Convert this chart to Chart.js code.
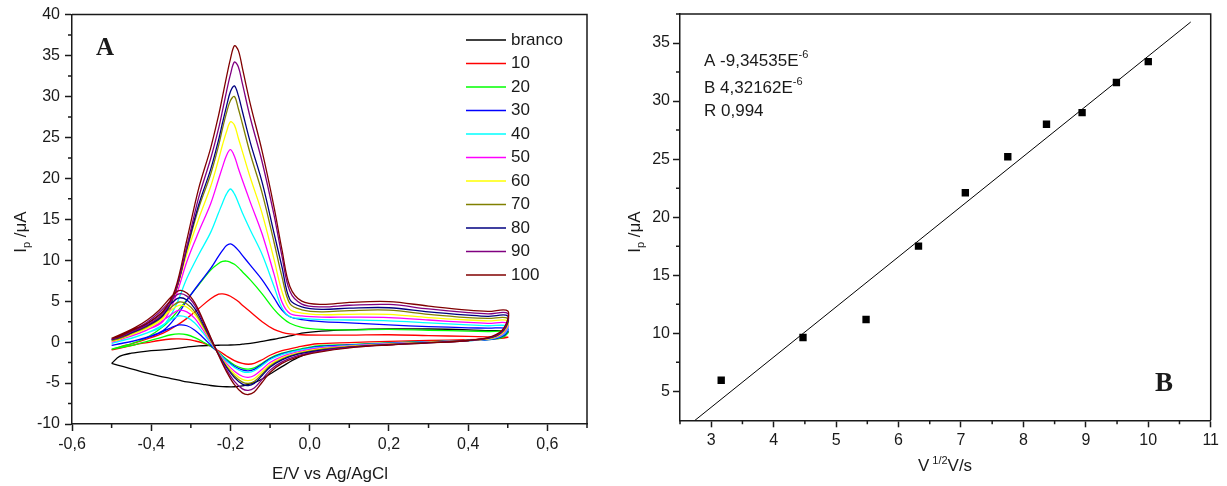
<!DOCTYPE html>
<html>
<head>
<meta charset="utf-8">
<script src="https://cdn.jsdelivr.net/npm/chart.js@4.4.0/dist/chart.umd.min.js"></script>
<style>
  html, body { margin: 0; padding: 0; background: #fff; }
  #wrap { position: relative; width: 1227px; height: 486px; }
  canvas { position: absolute; top: 0; }
  #cvA { left: 0; }
  #cvB { left: 613px; }
</style>
</head>
<body>
<div id="wrap">
  <canvas id="cvA" width="613" height="486"></canvas>
  <canvas id="cvB" width="614" height="486"></canvas>
</div>
<script>
// ---- panel A: cyclic voltammograms ----
// potential grid of the forward scan (-0.5 -> 0.5) and of the reverse scan (0.5 -> -0.5)
const eForward = [-0.5, -0.47, -0.44, -0.41, -0.38, -0.35, -0.33, -0.31, -0.29, -0.27, -0.25, -0.23, -0.21, -0.19, -0.17, -0.155, -0.14, -0.12, -0.1, -0.07, -0.03, 0.02, 0.1, 0.2, 0.3, 0.4, 0.46, 0.49, 0.5]
const eReverse = [0.5, 0.45, 0.4, 0.3, 0.2, 0.1, 0.03, -0.02, -0.05, -0.07, -0.09, -0.12, -0.15, -0.17, -0.18, -0.19, -0.2, -0.21, -0.22, -0.23, -0.25, -0.28, -0.31, -0.34, -0.37, -0.41, -0.45, -0.48, -0.5]

const seriesLabels = ['branco', '10', '20', '30', '40', '50', '60', '70', '80', '90', '100']
const seriesColors = ['#000000', '#ff0000', '#00ff00', '#0000ff', '#00ffff', '#ff00ff', '#ffff00', '#808000', '#000080', '#800080', '#800000']

// currents (uA), forward scan
const fwdBranco = [-2.6, -3.0, -3.4, -3.8, -4.15, -4.45, -4.65, -4.85, -5.0, -5.15, -5.3, -5.4, -5.45, -5.45, -5.35, -5.15, -4.95, -4.5, -3.9, -3.0, -1.9, -1.0, -0.45, -0.15, 0.05, 0.25, 0.45, 0.8, 1.3]
const fwd10 = [-0.95, -0.65, -0.3, -0.05, 0.2, 0.38, 0.4, 0.33, 0.15, -0.1, -0.5, -1.05, -1.7, -2.25, -2.6, -2.7, -2.6, -2.15, -1.6, -1.05, -0.6, -0.2, -0.05, 0.1, 0.2, 0.3, 0.4, 0.5, 0.6]
const fwd20 = [-0.85, -0.6, -0.3, 0.1, 0.5, 0.9, 1.0, 0.9, 0.55, 0.05, -0.5, -1.25, -2.1, -2.8, -3.2, -3.3, -3.15, -2.6, -1.95, -1.35, -0.9, -0.45, -0.3, -0.1, 0.06, 0.2, 0.35, 0.65, 1.25]
const fwd30 = [-0.4, -0.13, 0.18, 0.55, 1.08, 1.75, 2.1, 2.0, 1.46, 0.6, -0.36, -1.32, -2.23, -2.95, -3.4, -3.5, -3.33, -2.7, -2.03, -1.44, -1.0, -0.55, -0.35, -0.14, 0.04, 0.2, 0.35, 0.8, 1.65]
const fwd40 = [-0.15, 0.22, 0.62, 1.12, 1.83, 2.73, 3.2, 3.03, 2.34, 1.18, -0.11, -1.33, -2.32, -3.1, -3.6, -3.7, -3.5, -2.85, -2.15, -1.52, -1.04, -0.65, -0.4, -0.17, 0.02, 0.2, 0.4, 0.95, 1.95]
const fwd50 = [0.0, 0.43, 0.9, 1.48, 2.3, 3.35, 3.9, 3.7, 2.9, 1.55, 0.05, -1.39, -2.6, -3.56, -4.17, -4.3, -4.08, -3.31, -2.49, -1.76, -1.2, -0.75, -0.45, -0.2, 0.0, 0.2, 0.45, 1.1, 2.3]
const fwd60 = [0.1, 0.58, 1.11, 1.77, 2.7, 3.88, 4.5, 4.28, 3.38, 1.87, 0.19, -1.42, -2.79, -3.87, -4.56, -4.7, -4.47, -3.62, -2.73, -1.93, -1.32, -0.85, -0.5, -0.24, -0.02, 0.2, 0.5, 1.25, 2.6]
const fwd70 = [0.2, 0.72, 1.28, 1.99, 2.97, 4.24, 4.9, 4.66, 3.7, 2.08, 0.28, -1.46, -2.96, -4.14, -4.89, -5.05, -4.8, -3.89, -2.93, -2.07, -1.41, -0.95, -0.55, -0.27, -0.04, 0.2, 0.55, 1.4, 2.9]
const fwd80 = [0.3, 0.86, 1.47, 2.24, 3.31, 4.69, 5.4, 5.14, 4.1, 2.35, 0.4, -1.48, -3.07, -4.33, -5.13, -5.3, -5.04, -4.08, -3.07, -2.17, -1.48, -1.05, -0.6, -0.3, -0.06, 0.2, 0.6, 1.5, 3.2]
const fwd90 = [0.35, 0.96, 1.63, 2.46, 3.62, 5.12, 5.9, 5.62, 4.5, 2.61, 0.51, -1.53, -3.36, -4.8, -5.71, -5.9, -5.6, -4.54, -3.42, -2.42, -1.65, -1.15, -0.65, -0.32, -0.08, 0.2, 0.65, 1.6, 3.5]
const fwd100 = [0.45, 1.1, 1.8, 2.7, 3.9, 5.5, 6.3, 6.0, 4.8, 2.8, 0.6, -1.6, -3.6, -5.2, -6.2, -6.4, -6.1, -4.9, -3.7, -2.6, -1.8, -1.25, -0.7, -0.35, -0.1, 0.2, 0.7, 1.7, 3.8]

// currents (uA), reverse scan
const revBranco = [1.3, 1.4, 1.5, 1.6, 1.6, 1.5, 1.35, 1.1, 0.75, 0.55, 0.35, 0.1, -0.15, -0.25, -0.3, -0.33, -0.35, -0.36, -0.37, -0.38, -0.4, -0.45, -0.6, -0.8, -0.95, -1.1, -1.35, -1.75, -2.6]
const rev10 = [0.6, 0.65, 0.7, 0.8, 0.9, 0.85, 0.85, 0.9, 1.0, 1.2, 1.55, 2.5, 3.7, 4.5, 4.95, 5.3, 5.6, 5.8, 5.9, 5.85, 5.3, 4.1, 2.9, 1.9, 1.1, 0.4, -0.2, -0.6, -0.95]
const rev20 = [1.25, 1.3, 1.35, 1.45, 1.55, 1.5, 1.55, 1.8, 2.3, 3.0, 4.0, 5.9, 7.6, 8.6, 9.1, 9.5, 9.75, 9.9, 9.85, 9.6, 8.8, 7.0, 5.2, 3.4, 1.9, 0.6, -0.2, -0.6, -0.85]
const rev30 = [1.65, 1.7, 1.75, 1.9, 2.1, 2.35, 2.5, 2.75, 3.1, 3.9, 5.4, 7.6, 9.4, 10.6, 11.2, 11.7, 12.0, 11.8, 11.2, 10.5, 9.0, 7.1, 5.1, 2.9, 1.4, 0.6, 0.1, -0.2, -0.4]
const rev40 = [1.95, 2.0, 2.1, 2.35, 2.6, 2.7, 2.75, 2.9, 3.1, 4.2, 6.8, 10.7, 13.7, 15.8, 17.0, 18.1, 18.7, 18.1, 17.0, 15.8, 13.4, 10.7, 7.8, 4.25, 2.0, 1.14, 0.5, 0.12, -0.15]
const rev50 = [2.3, 2.3, 2.4, 2.7, 3.0, 3.05, 3.05, 3.2, 3.5, 4.9, 8.3, 13.2, 17.1, 19.8, 21.2, 22.7, 23.5, 22.8, 21.4, 19.9, 16.9, 13.5, 9.85, 5.35, 2.55, 1.5, 0.76, 0.3, 0.0]
const rev60 = [2.6, 2.6, 2.7, 3.0, 3.4, 3.4, 3.35, 3.55, 4.0, 6.2, 10.1, 15.7, 20.1, 23.3, 24.9, 26.5, 26.9, 25.7, 24.1, 22.3, 19.0, 15.1, 10.8, 5.8, 2.9, 1.7, 0.92, 0.34, 0.1]
const rev70 = [2.9, 2.9, 3.0, 3.4, 3.9, 3.85, 3.7, 3.95, 4.7, 8.0, 12.2, 18.2, 23.0, 26.7, 28.5, 30.0, 29.5, 28.0, 26.1, 24.0, 20.5, 16.4, 11.3, 5.95, 3.2, 1.9, 1.05, 0.45, 0.2]
const rev80 = [3.2, 3.15, 3.3, 3.7, 4.2, 4.15, 4.0, 4.3, 5.2, 9.2, 13.3, 19.5, 24.4, 28.2, 30.1, 31.3, 30.6, 28.8, 26.8, 24.7, 21.1, 16.8, 11.5, 6.0, 3.3, 2.0, 1.15, 0.57, 0.3]
const rev90 = [3.5, 3.45, 3.6, 4.05, 4.6, 4.5, 4.3, 4.65, 6.2, 10.5, 15.5, 22.0, 27.4, 31.6, 33.6, 34.2, 32.7, 30.6, 28.3, 26.1, 22.4, 17.7, 11.7, 6.0, 3.55, 2.1, 1.25, 0.6, 0.35]
const rev100 = [3.8, 3.75, 3.9, 4.4, 4.95, 4.85, 4.6, 5.0, 6.8, 11.3, 16.5, 23.3, 29.1, 33.5, 35.6, 36.2, 34.6, 32.4, 30.0, 27.7, 23.7, 18.8, 12.5, 6.4, 3.8, 2.3, 1.4, 0.7, 0.45]

const fwdCurrents = [fwdBranco, fwd10, fwd20, fwd30, fwd40, fwd50, fwd60, fwd70, fwd80, fwd90, fwd100]
const revCurrents = [revBranco, rev10, rev20, rev30, rev40, rev50, rev60, rev70, rev80, rev90, rev100]

const xTicksA = [-0.6, -0.4, -0.2, 0, 0.2, 0.4, 0.6]
const xMinorA = [-0.5, -0.3, -0.1, 0.1, 0.3, 0.5, 0.7]
const yTicksA = [-10, -5, 0, 5, 10, 15, 20, 25, 30, 35, 40]
const yMinorA = [-7.5, -2.5, 2.5, 7.5, 12.5, 17.5, 22.5, 27.5, 32.5, 37.5]

// ---- panel B: peak current vs square root of scan rate ----
const sqrtRate = [3.16, 4.47, 5.48, 6.32, 7.07, 7.75, 8.37, 8.94, 9.49, 10.0]
const peakCurrent = [5.95, 9.63, 11.18, 17.5, 22.1, 25.2, 28.0, 29.0, 31.6, 33.4]
const fitX = [2.74, 10.68]
const fitY = [2.5, 36.81]
const fitLabels = ['A -9,34535E', 'B 4,32162E', 'R 0,994']
const fitExponents = ['-6', '-6', '']

const xTicksB = [3, 4, 5, 6, 7, 8, 9, 10, 11]
const xMinorB = [2.5, 3.5, 4.5, 5.5, 6.5, 7.5, 8.5, 9.5, 10.5]
const yTicksB = [5, 10, 15, 20, 25, 30, 35]
const yMinorB = [7.5, 12.5, 17.5, 22.5, 27.5, 32.5, 37.5]

const family = '"Liberation Sans", Arial, sans-serif'
const serif = '"Liberation Serif", "Times New Roman", serif'
const ink = '#1a1a1a'

Chart.defaults.font.family = family
Chart.defaults.font.size = 16
Chart.defaults.color = ink

function loop(fwd, rev) {
  const pts = []
  eForward.forEach((e, i) => pts.push({ x: e, y: fwd[i] }))
  eReverse.forEach((e, i) => {
    if (i > 0) pts.push({ x: e, y: rev[i] })
  })
  return pts
}

function commaFixed(v, d) {
  return Number(v).toFixed(d).replace('.', ',')
}

function drawFrame(ctx, a) {
  ctx.save()
  ctx.strokeStyle = ink
  ctx.lineWidth = 1.5
  ctx.beginPath()
  ctx.moveTo(a.left, a.top)
  ctx.lineTo(a.right, a.top)
  ctx.lineTo(a.right, a.bottom)
  ctx.stroke()
  ctx.restore()
}

function drawMinor(chart, id, values) {
  const s = chart.scales[id]
  const ctx = chart.ctx
  ctx.save()
  ctx.strokeStyle = ink
  ctx.lineWidth = 1.5
  ctx.beginPath()
  values.forEach((v) => {
    const p = s.getPixelForValue(v)
    if (s.isHorizontal()) {
      ctx.moveTo(p, s.top)
      ctx.lineTo(p, s.top + 4)
    } else {
      ctx.moveTo(s.right - 4, p)
      ctx.lineTo(s.right, p)
    }
  })
  ctx.stroke()
  ctx.restore()
}

// text made of runs with own size and baseline shift (sub/superscripts)
function drawRuns(ctx, runs, x, y) {
  let w = 0
  runs.forEach((r) => {
    ctx.font = r.size + 'px ' + family
    w += ctx.measureText(r.t).width
  })
  let cx = x - w / 2
  runs.forEach((r) => {
    ctx.font = r.size + 'px ' + family
    ctx.fillText(r.t, cx, y + (r.dy || 0))
    cx += ctx.measureText(r.t).width
  })
}

function yTitle(ctx, x, y) {
  ctx.save()
  ctx.translate(x, y)
  ctx.rotate(-Math.PI / 2)
  ctx.fillStyle = ink
  ctx.textBaseline = 'alphabetic'
  drawRuns(ctx, [{ t: 'I', size: 17 }, { t: 'p', size: 11, dy: 4 }, { t: ' /μA', size: 17 }], 0, 0)
  ctx.restore()
}

function axisOptions(ticks, min, max, size, padding, fmt) {
  return {
    type: 'linear',
    min: min,
    max: max,
    afterBuildTicks: (s) => {
      s.ticks = ticks.map((v) => ({ value: v }))
    },
    afterFit: (s) => {
      if (s.isHorizontal()) s.height = size
      else s.width = size
    },
    ticks: { callback: fmt, font: { size: 16, family: family }, color: ink, padding: padding },
    grid: { display: true, drawOnChartArea: false, tickLength: 7, tickWidth: 1.5, tickColor: ink },
    border: { display: true, color: ink, width: 1.5 }
  }
}

const decorA = {
  id: 'decorA',
  afterDraw(chart) {
    const ctx = chart.ctx
    drawFrame(ctx, chart.chartArea)
    drawMinor(chart, 'x', xMinorA)
    drawMinor(chart, 'y', yMinorA)

    ctx.save()
    ctx.textBaseline = 'middle'
    seriesLabels.forEach((lab, i) => {
      const y = 40 + i * 23.5
      ctx.strokeStyle = seriesColors[i]
      ctx.lineWidth = 1.4
      ctx.beginPath()
      ctx.moveTo(466, y)
      ctx.lineTo(506, y)
      ctx.stroke()
      ctx.fillStyle = ink
      ctx.font = '17px ' + family
      ctx.fillText(lab, 511, y)
    })
    ctx.restore()

    ctx.save()
    ctx.fillStyle = ink
    ctx.font = 'bold 25px ' + serif
    ctx.fillText('A', 96, 55)
    drawRuns(ctx, [{ t: 'E/V vs Ag/AgCl', size: 17 }], 330, 479)
    ctx.restore()
    yTitle(ctx, 26, 232)
  }
}

const decorB = {
  id: 'decorB',
  afterDraw(chart) {
    const ctx = chart.ctx
    drawFrame(ctx, chart.chartArea)
    drawMinor(chart, 'x', xMinorB)
    drawMinor(chart, 'y', yMinorB)

    ctx.save()
    ctx.fillStyle = ink
    const base = [66, 93, 116]
    fitLabels.forEach((t, i) => {
      ctx.font = '17px ' + family
      ctx.fillText(t, 91, base[i])
      const w = ctx.measureText(t).width
      ctx.font = '11px ' + family
      ctx.fillText(fitExponents[i], 91 + w, base[i] - 8)
    })
    ctx.font = 'bold 27px ' + serif
    ctx.fillText('B', 542, 391)
    drawRuns(ctx, [{ t: 'V', size: 17 }, { t: ' 1/2', size: 11, dy: -7 }, { t: 'V/s', size: 17 }], 332, 471)
    ctx.restore()
    yTitle(ctx, 27, 232)
  }
}

new Chart(document.getElementById('cvA'), {
  type: 'scatter',
  data: {
    datasets: seriesLabels.map((lab, i) => ({
      label: lab,
      data: loop(fwdCurrents[i], revCurrents[i]),
      showLine: true,
      borderColor: seriesColors[i],
      borderWidth: 1.3,
      pointRadius: 0,
      tension: 0.35,
      order: seriesLabels.length - i
    }))
  },
  options: {
    responsive: false,
    animation: false,
    events: [],
    layout: { padding: { top: 14, right: 26, left: 0, bottom: 0 } },
    plugins: { legend: { display: false }, tooltip: { enabled: false } },
    scales: {
      x: axisOptions(xTicksA, -0.6, 0.7, 62, 4, (v) => commaFixed(v, 1)),
      y: axisOptions(yTicksA, -10, 40, 72, 5, (v) => String(v))
    }
  },
  plugins: [decorA]
})

new Chart(document.getElementById('cvB'), {
  type: 'scatter',
  data: {
    datasets: [
      {
        label: 'Ip',
        data: sqrtRate.map((x, i) => ({ x: x, y: peakCurrent[i] })),
        pointStyle: 'rect',
        pointRadius: 5.2,
        pointBorderWidth: 0,
        backgroundColor: '#000',
        borderColor: '#000'
      },
      {
        label: 'fit',
        data: fitX.map((x, i) => ({ x: x, y: fitY[i] })),
        showLine: true,
        borderColor: '#000',
        borderWidth: 1,
        pointRadius: 0
      }
    ]
  },
  options: {
    responsive: false,
    animation: false,
    events: [],
    layout: { padding: { top: 14, right: 16.3, left: 0, bottom: 0 } },
    plugins: { legend: { display: false }, tooltip: { enabled: false } },
    scales: {
      x: axisOptions(xTicksB, 2.5, 11, 65.7, 4, (v) => String(v)),
      y: axisOptions(yTicksB, 2.5, 37.5, 67, 3, (v) => String(v))
    }
  },
  plugins: [decorB]
})
</script>
</body>
</html>
